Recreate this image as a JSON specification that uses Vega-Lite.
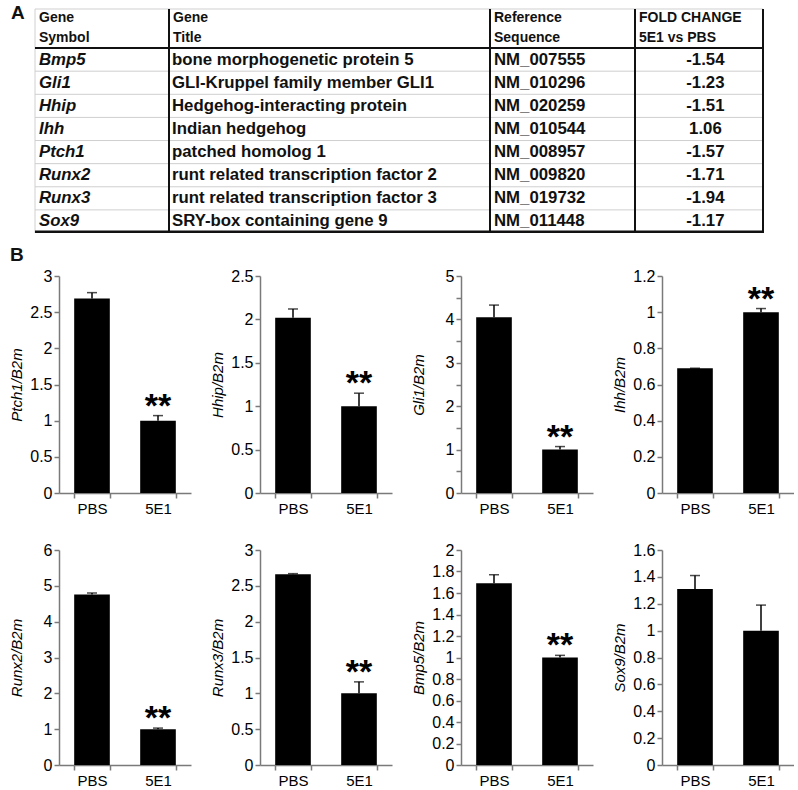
{
  "$schema": "https://vega.github.io/schema/vega-lite/v6.json",
  "padding": {"left": 9, "top": 4, "right": 0, "bottom": 0},
  "background": "white",
  "datasets": {
    "table": [
      {"row": 1, "sym": "Bmp5", "title": "bone morphogenetic protein 5", "ref": "NM_007555", "fold": "-1.54"},
      {"row": 2, "sym": "Gli1", "title": "GLI-Kruppel family member GLI1", "ref": "NM_010296", "fold": "-1.23"},
      {"row": 3, "sym": "Hhip", "title": "Hedgehog-interacting protein", "ref": "NM_020259", "fold": "-1.51"},
      {"row": 4, "sym": "Ihh", "title": "Indian hedgehog", "ref": "NM_010544", "fold": "1.06"},
      {"row": 5, "sym": "Ptch1", "title": "patched homolog 1", "ref": "NM_008957", "fold": "-1.57"},
      {"row": 6, "sym": "Runx2", "title": "runt related transcription factor 2", "ref": "NM_009820", "fold": "-1.71"},
      {"row": 7, "sym": "Runx3", "title": "runt related transcription factor 3", "ref": "NM_019732", "fold": "-1.94"},
      {"row": 8, "sym": "Sox9", "title": "SRY-box containing gene 9", "ref": "NM_011448", "fold": "-1.17"}
    ],
    "headers": [
      {"c": 0, "h": "Gene\nSymbol"},
      {"c": 1, "h": "Gene\nTitle"},
      {"c": 2, "h": "Reference\nSequence"},
      {"c": 3, "h": "FOLD CHANGE\n5E1 vs PBS"}
    ],
    "dividers": [{"c": 1}, {"c": 2}, {"c": 3}, {"c": 4}],
    "bars": [
      {"gene": "Ptch1", "group": "PBS", "value": 2.69, "hi": 2.77, "sig": ""},
      {"gene": "Ptch1", "group": "5E1", "value": 1.0, "hi": 1.07, "sig": "**"},
      {"gene": "Hhip", "group": "PBS", "value": 2.02, "hi": 2.12, "sig": ""},
      {"gene": "Hhip", "group": "5E1", "value": 1.0, "hi": 1.15, "sig": "**"},
      {"gene": "Gli1", "group": "PBS", "value": 4.05, "hi": 4.33, "sig": ""},
      {"gene": "Gli1", "group": "5E1", "value": 1.0, "hi": 1.07, "sig": "**"},
      {"gene": "Ihh", "group": "PBS", "value": 0.69, "hi": 0.69, "sig": ""},
      {"gene": "Ihh", "group": "5E1", "value": 1.0, "hi": 1.02, "sig": "**"},
      {"gene": "Runx2", "group": "PBS", "value": 4.76, "hi": 4.8, "sig": ""},
      {"gene": "Runx2", "group": "5E1", "value": 1.0, "hi": 1.03, "sig": "**"},
      {"gene": "Runx3", "group": "PBS", "value": 2.66, "hi": 2.67, "sig": ""},
      {"gene": "Runx3", "group": "5E1", "value": 1.0, "hi": 1.16, "sig": "**"},
      {"gene": "Bmp5", "group": "PBS", "value": 1.69, "hi": 1.77, "sig": ""},
      {"gene": "Bmp5", "group": "5E1", "value": 1.0, "hi": 1.02, "sig": "**"},
      {"gene": "Sox9", "group": "PBS", "value": 1.31, "hi": 1.41, "sig": ""},
      {"gene": "Sox9", "group": "5E1", "value": 1.0, "hi": 1.19, "sig": ""}
    ]
  },
  "spacing": 11,
  "vconcat": [
    {
      "width": 704,
      "height": 228,
      "layer": [
        {
          "data": {"values": [{}]},
          "mark": {"type": "rule", "color": "#d0d0d0", "strokeWidth": 1},
          "encoding": {
            "x": {"datum": 0, "type": "quantitative", "scale": {"domain": [-1, 0, 1, 2, 3, 4], "range": [-48, -24, 110, 431, 576, 704], "nice": false, "zero": false}, "axis": null},
            "x2": {"datum": 4},
            "y": {"datum": -1.19, "type": "quantitative", "scale": {"domain": [-1.363, 8.5], "reverse": true, "nice": false, "zero": false}, "axis": null}
          }
        },
        {
          "data": {"values": [{}]},
          "mark": {"type": "rule", "color": "#d0d0d0", "strokeWidth": 1},
          "encoding": {
            "x": {"datum": 0, "type": "quantitative"},
            "y": {"datum": -1.19, "type": "quantitative"},
            "y2": {"datum": 8.5}
          }
        },
        {
          "data": {"name": "table"},
          "transform": [{"filter": "datum.row < 8"}],
          "mark": {"type": "rule", "color": "#cfcfcf", "strokeWidth": 1, "yOffset": 11.56},
          "encoding": {
            "x": {"datum": 0, "type": "quantitative"},
            "x2": {"datum": 4},
            "y": {"field": "row", "type": "quantitative"}
          }
        },
        {
          "data": {"name": "dividers"},
          "mark": {"type": "rule", "color": "#111111", "strokeWidth": 2},
          "encoding": {
            "x": {"field": "c", "type": "quantitative"},
            "y": {"datum": -1.19, "type": "quantitative"},
            "y2": {"datum": 8.5}
          }
        },
        {
          "data": {"values": [{}]},
          "mark": {"type": "rule", "color": "#111111", "strokeWidth": 2},
          "encoding": {
            "x": {"datum": 0, "type": "quantitative"},
            "x2": {"datum": 4},
            "y": {"datum": 0.5, "type": "quantitative"}
          }
        },
        {
          "data": {"values": [{}]},
          "mark": {"type": "rule", "color": "#111111", "strokeWidth": 2.5},
          "encoding": {
            "x": {"datum": 0, "type": "quantitative"},
            "x2": {"datum": 4},
            "y": {"datum": 8.45, "type": "quantitative"}
          }
        },
        {
          "data": {"name": "headers"},
          "mark": {"type": "text", "align": "left", "baseline": "middle", "dx": 4, "font": "Liberation Sans", "fontSize": 14, "fontWeight": "bold", "lineBreak": "\n", "lineHeight": 19.5, "color": "#111"},
          "encoding": {
            "x": {"field": "c", "type": "quantitative"},
            "y": {"datum": -0.8, "type": "quantitative"},
            "text": {"field": "h"}
          }
        },
        {
          "data": {"name": "table"},
          "mark": {"type": "text", "align": "left", "baseline": "middle", "dx": 4, "font": "Liberation Sans", "fontSize": 16.8, "fontWeight": "bold", "fontStyle": "italic", "color": "#111"},
          "encoding": {
            "x": {"datum": 0, "type": "quantitative"},
            "y": {"field": "row", "type": "quantitative"},
            "text": {"field": "sym"}
          }
        },
        {
          "data": {"name": "table"},
          "mark": {"type": "text", "align": "left", "baseline": "middle", "dx": 3, "font": "Liberation Sans", "fontSize": 16.8, "fontWeight": "bold", "color": "#111"},
          "encoding": {
            "x": {"datum": 1, "type": "quantitative"},
            "y": {"field": "row", "type": "quantitative"},
            "text": {"field": "title"}
          }
        },
        {
          "data": {"name": "table"},
          "mark": {"type": "text", "align": "left", "baseline": "middle", "dx": 4, "font": "Liberation Sans", "fontSize": 16.8, "fontWeight": "bold", "color": "#111"},
          "encoding": {
            "x": {"datum": 2, "type": "quantitative"},
            "y": {"field": "row", "type": "quantitative"},
            "text": {"field": "ref"}
          }
        },
        {
          "data": {"name": "table"},
          "mark": {"type": "text", "align": "center", "baseline": "middle", "font": "Liberation Sans", "fontSize": 16.8, "fontWeight": "bold", "color": "#111"},
          "encoding": {
            "x": {"datum": 3.55, "type": "quantitative"},
            "y": {"field": "row", "type": "quantitative"},
            "text": {"field": "fold"}
          }
        },
        {
          "data": {"values": [{"t": "A"}]},
          "mark": {"type": "text", "align": "left", "baseline": "middle", "font": "Liberation Sans", "fontSize": 19, "fontWeight": "bold", "color": "#111"},
          "encoding": {
            "x": {"datum": -1, "type": "quantitative"},
            "y": {"datum": -1.0, "type": "quantitative"},
            "text": {"field": "t"}
          }
        }
      ]
    },
    {
      "spacing": 26,
      "vconcat": [
        {
          "title": {"text": "B", "anchor": "start", "frame": "group", "fontSize": 19, "fontWeight": "bold", "font": "Liberation Sans", "offset": 2, "dx": -49, "color": "#111"},
          "spacing": 19,
          "hconcat": [
            {
              "width": 132, "height": 217,
              "data": {"name": "bars"},
              "transform": [{"filter": "datum.gene == 'Ptch1'"}],
              "encoding": {
                "x": {"field": "group", "type": "nominal", "sort": ["PBS", "5E1"], "scale": {"paddingInner": 0.46, "paddingOuter": 0.23}, "axis": {"title": null}},
                "y": {"field": "value", "type": "quantitative", "scale": {"domain": [0, 3], "nice": false}, "axis": {"title": "Ptch1/B2m", "tickCount": 6, "labelOverlap": false}}
              },
              "layer": [
                {"mark": {"type": "bar", "color": "#000"}},
                {"mark": {"type": "rule", "color": "#000", "strokeWidth": 1.5}, "encoding": {"y2": {"field": "hi"}}},
                {"mark": {"type": "tick", "color": "#000", "size": 10, "thickness": 1.5}, "encoding": {"y": {"field": "hi", "type": "quantitative"}}},
                {"mark": {"type": "text", "font": "Liberation Sans", "fontSize": 34, "fontWeight": "bold", "dy": 1, "baseline": "alphabetic", "color": "#000"}, "encoding": {"y": {"field": "hi", "type": "quantitative"}, "text": {"field": "sig"}}}
              ]
            },
            {
              "width": 132, "height": 217,
              "data": {"name": "bars"},
              "transform": [{"filter": "datum.gene == 'Hhip'"}],
              "encoding": {
                "x": {"field": "group", "type": "nominal", "sort": ["PBS", "5E1"], "scale": {"paddingInner": 0.46, "paddingOuter": 0.23}, "axis": {"title": null}},
                "y": {"field": "value", "type": "quantitative", "scale": {"domain": [0, 2.5], "nice": false}, "axis": {"title": "Hhip/B2m", "tickCount": 5, "labelOverlap": false}}
              },
              "layer": [
                {"mark": {"type": "bar", "color": "#000"}},
                {"mark": {"type": "rule", "color": "#000", "strokeWidth": 1.5}, "encoding": {"y2": {"field": "hi"}}},
                {"mark": {"type": "tick", "color": "#000", "size": 10, "thickness": 1.5}, "encoding": {"y": {"field": "hi", "type": "quantitative"}}},
                {"mark": {"type": "text", "font": "Liberation Sans", "fontSize": 34, "fontWeight": "bold", "dy": 1, "baseline": "alphabetic", "color": "#000"}, "encoding": {"y": {"field": "hi", "type": "quantitative"}, "text": {"field": "sig"}}}
              ]
            },
            {
              "width": 132, "height": 217,
              "data": {"name": "bars"},
              "transform": [{"filter": "datum.gene == 'Gli1'"}],
              "encoding": {
                "x": {"field": "group", "type": "nominal", "sort": ["PBS", "5E1"], "scale": {"paddingInner": 0.46, "paddingOuter": 0.23}, "axis": {"title": null}},
                "y": {"field": "value", "type": "quantitative", "scale": {"domain": [0, 5], "nice": false}, "axis": {"title": "Gli1/B2m", "tickCount": 10, "labelExpr": "datum.value % 1 == 0 ? datum.label : ''", "labelOverlap": false}}
              },
              "layer": [
                {"mark": {"type": "bar", "color": "#000"}},
                {"mark": {"type": "rule", "color": "#000", "strokeWidth": 1.5}, "encoding": {"y2": {"field": "hi"}}},
                {"mark": {"type": "tick", "color": "#000", "size": 10, "thickness": 1.5}, "encoding": {"y": {"field": "hi", "type": "quantitative"}}},
                {"mark": {"type": "text", "font": "Liberation Sans", "fontSize": 34, "fontWeight": "bold", "dy": 1, "baseline": "alphabetic", "color": "#000"}, "encoding": {"y": {"field": "hi", "type": "quantitative"}, "text": {"field": "sig"}}}
              ]
            },
            {
              "width": 132, "height": 217,
              "data": {"name": "bars"},
              "transform": [{"filter": "datum.gene == 'Ihh'"}],
              "encoding": {
                "x": {"field": "group", "type": "nominal", "sort": ["PBS", "5E1"], "scale": {"paddingInner": 0.46, "paddingOuter": 0.23}, "axis": {"title": null}},
                "y": {"field": "value", "type": "quantitative", "scale": {"domain": [0, 1.2], "nice": false}, "axis": {"title": "Ihh/B2m", "tickCount": 6, "labelOverlap": false}}
              },
              "layer": [
                {"mark": {"type": "bar", "color": "#000"}},
                {"mark": {"type": "rule", "color": "#000", "strokeWidth": 1.5}, "encoding": {"y2": {"field": "hi"}}},
                {"mark": {"type": "tick", "color": "#000", "size": 10, "thickness": 1.5}, "encoding": {"y": {"field": "hi", "type": "quantitative"}}},
                {"mark": {"type": "text", "font": "Liberation Sans", "fontSize": 34, "fontWeight": "bold", "dy": 1, "baseline": "alphabetic", "color": "#000"}, "encoding": {"y": {"field": "hi", "type": "quantitative"}, "text": {"field": "sig"}}}
              ]
            }
          ]
        },
        {
          "spacing": 19,
          "hconcat": [
            {
              "width": 132, "height": 215,
              "data": {"name": "bars"},
              "transform": [{"filter": "datum.gene == 'Runx2'"}],
              "encoding": {
                "x": {"field": "group", "type": "nominal", "sort": ["PBS", "5E1"], "scale": {"paddingInner": 0.46, "paddingOuter": 0.23}, "axis": {"title": null}},
                "y": {"field": "value", "type": "quantitative", "scale": {"domain": [0, 6], "nice": false}, "axis": {"title": "Runx2/B2m", "tickCount": 6, "labelOverlap": false}}
              },
              "layer": [
                {"mark": {"type": "bar", "color": "#000"}},
                {"mark": {"type": "rule", "color": "#000", "strokeWidth": 1.5}, "encoding": {"y2": {"field": "hi"}}},
                {"mark": {"type": "tick", "color": "#000", "size": 10, "thickness": 1.5}, "encoding": {"y": {"field": "hi", "type": "quantitative"}}},
                {"mark": {"type": "text", "font": "Liberation Sans", "fontSize": 34, "fontWeight": "bold", "dy": 1, "baseline": "alphabetic", "color": "#000"}, "encoding": {"y": {"field": "hi", "type": "quantitative"}, "text": {"field": "sig"}}}
              ]
            },
            {
              "width": 132, "height": 215,
              "data": {"name": "bars"},
              "transform": [{"filter": "datum.gene == 'Runx3'"}],
              "encoding": {
                "x": {"field": "group", "type": "nominal", "sort": ["PBS", "5E1"], "scale": {"paddingInner": 0.46, "paddingOuter": 0.23}, "axis": {"title": null}},
                "y": {"field": "value", "type": "quantitative", "scale": {"domain": [0, 3], "nice": false}, "axis": {"title": "Runx3/B2m", "tickCount": 6, "labelOverlap": false}}
              },
              "layer": [
                {"mark": {"type": "bar", "color": "#000"}},
                {"mark": {"type": "rule", "color": "#000", "strokeWidth": 1.5}, "encoding": {"y2": {"field": "hi"}}},
                {"mark": {"type": "tick", "color": "#000", "size": 10, "thickness": 1.5}, "encoding": {"y": {"field": "hi", "type": "quantitative"}}},
                {"mark": {"type": "text", "font": "Liberation Sans", "fontSize": 34, "fontWeight": "bold", "dy": 1, "baseline": "alphabetic", "color": "#000"}, "encoding": {"y": {"field": "hi", "type": "quantitative"}, "text": {"field": "sig"}}}
              ]
            },
            {
              "width": 132, "height": 215,
              "data": {"name": "bars"},
              "transform": [{"filter": "datum.gene == 'Bmp5'"}],
              "encoding": {
                "x": {"field": "group", "type": "nominal", "sort": ["PBS", "5E1"], "scale": {"paddingInner": 0.46, "paddingOuter": 0.23}, "axis": {"title": null}},
                "y": {"field": "value", "type": "quantitative", "scale": {"domain": [0, 2], "nice": false}, "axis": {"title": "Bmp5/B2m", "tickCount": 10, "labelOverlap": false}}
              },
              "layer": [
                {"mark": {"type": "bar", "color": "#000"}},
                {"mark": {"type": "rule", "color": "#000", "strokeWidth": 1.5}, "encoding": {"y2": {"field": "hi"}}},
                {"mark": {"type": "tick", "color": "#000", "size": 10, "thickness": 1.5}, "encoding": {"y": {"field": "hi", "type": "quantitative"}}},
                {"mark": {"type": "text", "font": "Liberation Sans", "fontSize": 34, "fontWeight": "bold", "dy": 1, "baseline": "alphabetic", "color": "#000"}, "encoding": {"y": {"field": "hi", "type": "quantitative"}, "text": {"field": "sig"}}}
              ]
            },
            {
              "width": 132, "height": 215,
              "data": {"name": "bars"},
              "transform": [{"filter": "datum.gene == 'Sox9'"}],
              "encoding": {
                "x": {"field": "group", "type": "nominal", "sort": ["PBS", "5E1"], "scale": {"paddingInner": 0.46, "paddingOuter": 0.23}, "axis": {"title": null}},
                "y": {"field": "value", "type": "quantitative", "scale": {"domain": [0, 1.6], "nice": false}, "axis": {"title": "Sox9/B2m", "tickCount": 8, "labelOverlap": false}}
              },
              "layer": [
                {"mark": {"type": "bar", "color": "#000"}},
                {"mark": {"type": "rule", "color": "#000", "strokeWidth": 1.5}, "encoding": {"y2": {"field": "hi"}}},
                {"mark": {"type": "tick", "color": "#000", "size": 10, "thickness": 1.5}, "encoding": {"y": {"field": "hi", "type": "quantitative"}}},
                {"mark": {"type": "text", "font": "Liberation Sans", "fontSize": 34, "fontWeight": "bold", "dy": 1, "baseline": "alphabetic", "color": "#000"}, "encoding": {"y": {"field": "hi", "type": "quantitative"}, "text": {"field": "sig"}}}
              ]
            }
          ]
        }
      ]
    }
  ],
  "config": {
    "font": "Liberation Sans",
    "view": {"stroke": null},
    "axis": {
      "labelFont": "Liberation Sans", "labelFontSize": 16, "labelColor": "#000",
      "domainColor": "#7a7a7a", "tickColor": "#7a7a7a", "domainWidth": 1.5, "tickWidth": 1.5,
      "grid": false, "titleFont": "Liberation Sans", "titleFontSize": 15, "titleFontWeight": "normal", "titleColor": "#000",
      "labelOverlap": false
    },
    "axisY": {"titleFontStyle": "italic", "tickSize": 5, "labelPadding": 2, "minExtent": 30, "maxExtent": 30, "titlePadding": 5, "format": ".1~f", "labelOverlap": false, "labelBound": false},
    "axisX": {"tickBand": "extent", "tickSize": 5, "labelPadding": 3, "labelAngle": 0, "labelFontSize": 15}
  }
}
